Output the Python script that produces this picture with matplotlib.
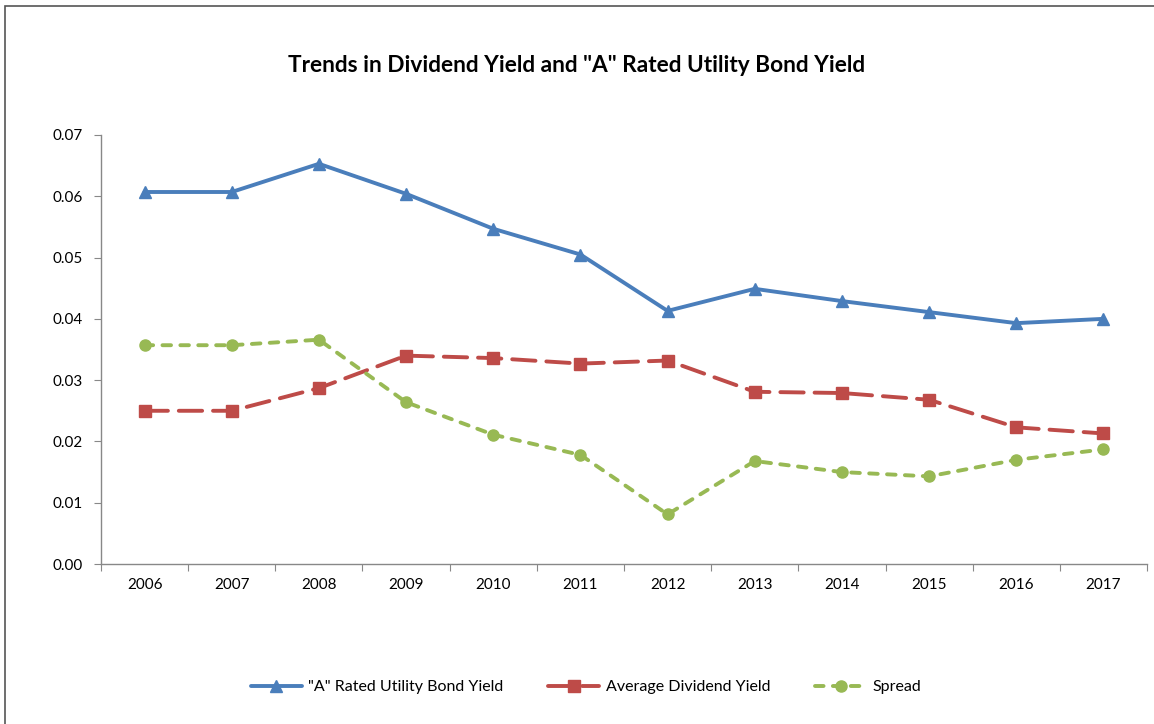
import matplotlib
matplotlib.use("Agg")
import matplotlib.pyplot as plt
from matplotlib.patches import Rectangle

years = ["2006", "2007", "2008", "2009", "2010", "2011", "2012", "2013", "2014", "2015", "2016", "2017"]
bond_yield = [0.0607, 0.0607, 0.0653, 0.0604, 0.0547, 0.0505, 0.0413, 0.0449, 0.0429, 0.0411, 0.0393, 0.0400]
dividend_yield = [0.0250, 0.0250, 0.0287, 0.0340, 0.0336, 0.0327, 0.0332, 0.0281, 0.0279, 0.0268, 0.0223, 0.0213]
spread = [0.0357, 0.0357, 0.0366, 0.0264, 0.0211, 0.0178, 0.0081, 0.0168, 0.0150, 0.0143, 0.0170, 0.0187]
y_ticks = [0.00, 0.01, 0.02, 0.03, 0.04, 0.05, 0.06, 0.07]

plt.rcParams['font.family'] = ['Lato', 'DejaVu Sans']

W, H = 1154, 724
fig = plt.figure(figsize=(W / 100, H / 100), dpi=100)
fig.patch.set_facecolor('white')

# outer chart border
fig.add_artist(Rectangle((5 / W, -0.01), 1.02, 1 - 6 / H + 0.01, transform=fig.transFigure,
                         fill=False, edgecolor='#555555', linewidth=1.2))

ax = fig.add_axes([101 / W, 1 - 564 / H, (1147 - 101) / W, (564 - 135) / H])

x = list(range(len(years)))
blue = '#4A7EBB'
red = '#BE4B48'
green = '#98B954'

ax.plot(x, bond_yield, color=blue, lw=2.8, marker='^', ms=8, solid_capstyle='round',
        label='"A" Rated Utility Bond Yield')
ax.plot(x, dividend_yield, color=red, lw=2.8, marker='s', ms=8, dashes=(6, 2.8),
        dash_capstyle='round', label='Average Dividend Yield')
ax.plot(x, spread, color=green, lw=2.8, marker='o', ms=8, dashes=(2.2, 2.4),
        dash_capstyle='round', label='Spread')

ax.set_xlim(-0.5, len(years) - 0.5)
ax.set_ylim(0, 0.07)
ax.set_yticks(y_ticks)
ax.set_yticklabels([f"{v:.2f}" for v in y_ticks], fontsize=11)

ax.set_xticks([i - 0.5 for i in range(len(years) + 1)])
ax.set_xticklabels([])
ax.set_xticks(x, minor=True)
ax.set_xticklabels(years, minor=True, fontsize=11)
ax.tick_params(axis='x', which='minor', length=0, pad=10)
ax.tick_params(axis='x', which='major', length=5, color='#888888', direction='out')
ax.tick_params(axis='y', length=5, color='#888888', direction='out', pad=8)

for s in ['top', 'right']:
    ax.spines[s].set_visible(False)
for s in ['left', 'bottom']:
    ax.spines[s].set_color('#888888')
    ax.spines[s].set_linewidth(1.0)

fig.text(577 / W, 1 - 65 / H, 'Trends in Dividend Yield and "A" Rated Utility Bond Yield',
         ha='center', va='center', fontsize=16.3, fontweight='bold')

fig.legend(loc='center', bbox_to_anchor=(586 / W, 1 - 687 / H), ncol=3, frameon=False,
           fontsize=11.5, handlelength=3.2, columnspacing=2.8, handletextpad=0.4)

fig.savefig('out.png', dpi=100, facecolor='white')
